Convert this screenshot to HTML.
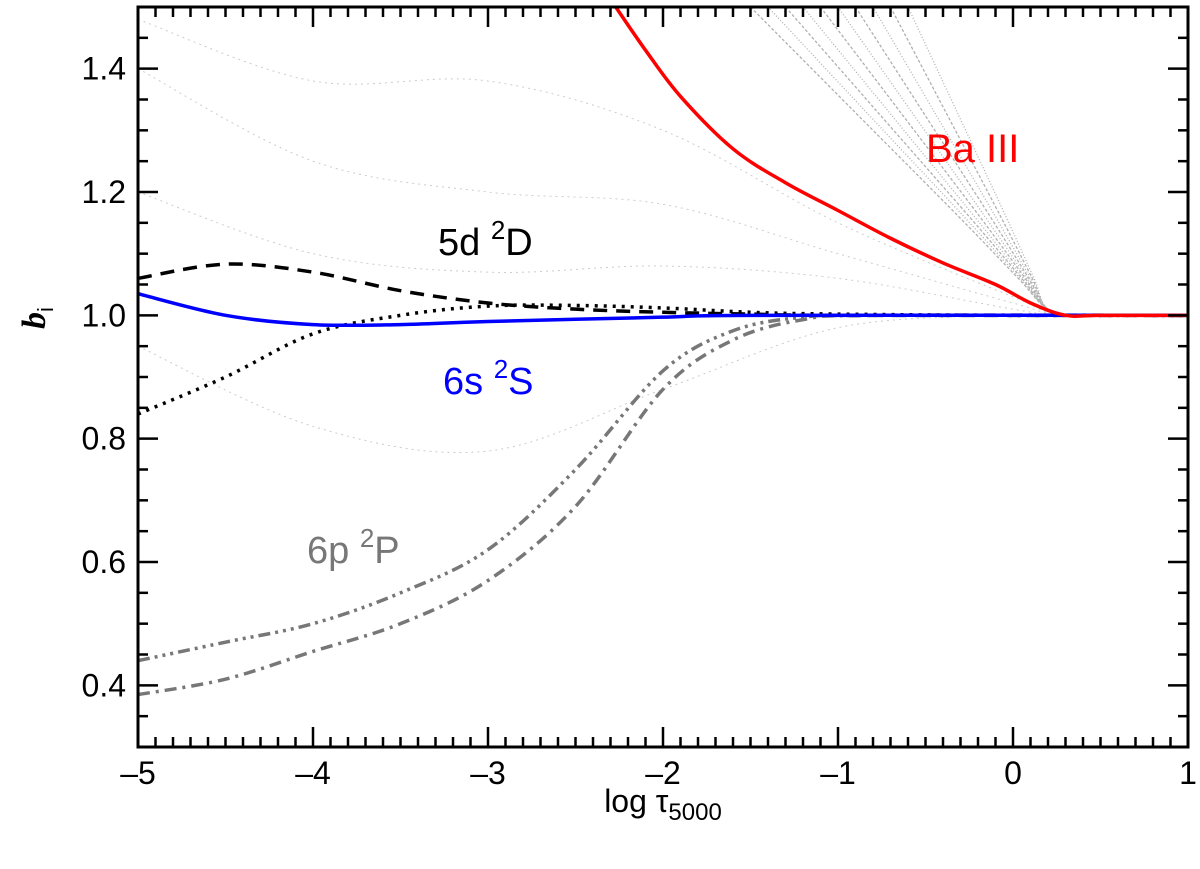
<!DOCTYPE html>
<html><head><meta charset="utf-8"><style>
html,body{margin:0;padding:0;background:#fff;}
svg{display:block;font-family:"Liberation Sans",sans-serif;}
</style></head><body>
<svg id="chart" width="1200" height="869" viewBox="0 0 1200 869">
<g id="faint"></g>
<g id="series"></g>
<g id="axes"></g>
<text x="438" y="255" font-size="38" fill="#000">5d <tspan font-size="26" dy="-16">2</tspan><tspan dy="16">D</tspan></text>
<text x="443" y="394" font-size="38" fill="#0000ff">6s <tspan font-size="26" dy="-16">2</tspan><tspan dy="16">S</tspan></text>
<text x="307" y="563" font-size="38" fill="#777">6p <tspan font-size="26" dy="-16">2</tspan><tspan dy="16">P</tspan></text>
<text x="926" y="162" font-size="40" fill="#ff0000">Ba III</text>
<text x="663" y="812" font-size="32" text-anchor="middle">log τ<tspan font-size="24" dy="8">5000</tspan></text>
<text transform="translate(45,318) rotate(-90)" font-size="34" font-family="Liberation Serif,serif" font-weight="bold" font-style="italic" text-anchor="middle">b<tspan font-size="22" dy="8" font-style="normal" font-weight="normal" font-family="Liberation Sans,sans-serif">i</tspan></text>
</svg>
<script>
const xTicks=[-5,-4,-3,-2,-1,0,1];
const xTickLabels=['\u20135','\u20134','\u20133','\u20132','\u20131','0','1'];
const yTicks=[0.4,0.6,0.8,1.0,1.2,1.4];
const yTickLabels=['0.4','0.6','0.8','1.0','1.2','1.4'];
const redX=[-2.27,-2.1,-1.9,-1.6,-1.3,-1.0,-0.7,-0.4,-0.1,0.1,0.3,0.5,1.0];
const redY=[1.5,1.43,1.355,1.27,1.215,1.17,1.125,1.085,1.05,1.02,1.0,1.0,1.0];
const blueX=[-5,-4.5,-4,-3.5,-3,-2,-1.5,1];
const blueY=[1.035,1.0,0.985,0.985,0.99,0.997,1.0,1.0];
const dashX=[-5,-4.5,-4,-3.5,-3,-2.5,-2,-1.5,-1,1];
const dashY=[1.06,1.083,1.07,1.04,1.02,1.01,1.005,1.002,1.0,1.0];
const dotX=[-5,-4.5,-4,-3.5,-3,-2.5,-2,-1.5,-1,0,1];
const dotY=[0.84,0.9,0.97,1.0,1.015,1.016,1.012,1.005,1.002,1.0,1.0];
const p3X=[-5,-4.5,-4,-3.5,-3,-2.5,-2,-1.6,-1.2,-0.8,1];
const p3Y=[0.44,0.47,0.50,0.55,0.62,0.75,0.91,0.975,0.997,1.0,1.0];
const p1X=[-5,-4.5,-4,-3.5,-3,-2.5,-2,-1.6,-1.2,-0.8,1];
const p1Y=[0.385,0.41,0.455,0.50,0.57,0.69,0.88,0.96,0.993,1.0,1.0];
const faintX=[-5,-4,-3,-2,-1,0,0.3,1];
const faintA=[1.48,1.38,1.38,1.3,1.15,1.03,1.0,1.0];
const faintB=[1.40,1.25,1.2,1.18,1.1,1.02,1.0,1.0];
const faintC=[1.2,1.1,1.07,1.08,1.06,1.01,1.0,1.0];
const faintD=[0.95,0.82,0.78,0.88,0.98,1.0,1.0,1.0];
const bundleStart=[-1.5,-1.4,-1.3,-1.2,-1.1,-1.0,-0.9,-0.8,-0.7,-0.6];
const X0=138,X1=1188,Y0=747,Y1=7;
const sx=v=>X0+(v+5)/6*(X1-X0);
const sy=v=>Y0-(v-0.3)/1.2*(Y0-Y1);
const NS='http://www.w3.org/2000/svg';
function mk(tag,attrs,parent){const e=document.createElementNS(NS,tag);for(const k in attrs)e.setAttribute(k,attrs[k]);parent.appendChild(e);return e;}
function smooth(xs,ys){const p=xs.map((x,i)=>[sx(x),sy(ys[i])]);let d='M'+p[0][0]+','+p[0][1];
for(let i=0;i<p.length-1;i++){const a=p[i-1]||p[i],b=p[i],c=p[i+1],e=p[i+2]||c;
d+=` C${b[0]+(c[0]-a[0])/6},${b[1]+(c[1]-a[1])/6} ${c[0]-(e[0]-b[0])/6},${c[1]-(e[1]-b[1])/6} ${c[0]},${c[1]}`;}return d;}
const svg=document.getElementById('chart');
const defs=mk('defs',{},svg);
const cp=mk('clipPath',{id:'clip'},defs);
mk('rect',{x:X0,y:Y1,width:X1-X0,height:Y0-Y1},cp);
const faint=document.getElementById('faint');faint.setAttribute('clip-path','url(#clip)');
[faintA,faintB,faintC,faintD].forEach((ys,i)=>{const e=mk('path',{d:smooth(faintX,ys),fill:'none',stroke:'#ccc','stroke-width':1,'stroke-dasharray':'2,4'},faint);

});
bundleStart.forEach((s,i)=>{const xe=0.2;
const xs=[s,s+(xe-s)*0.35,s+(xe-s)*0.7,s+(xe-s)*0.9,xe,0.4,1];
const ys=[1.5,1.33,1.16,1.06,1.01,1.0,1.0];
const e=mk('path',{d:smooth(xs,ys),fill:'none',stroke:'#b0b0b0','stroke-width':1.3,'stroke-dasharray':i%2?'1,2':'3,2'},faint);

});
const series=document.getElementById('series');series.setAttribute('clip-path','url(#clip)');
const defsS=[
['line-6p-a',p1X,p1Y,'#777','12,6,3,6'],
['line-6p-b',p3X,p3Y,'#777','12,5,3,5,3,5,3,5'],
['line-5d-dotted',dotX,dotY,'#000','3,6'],
['line-5d-dashed',dashX,dashY,'#000','14,9'],
['line-6s',blueX,blueY,'#0000ff',''],
['line-ba-iii',redX,redY,'#ff0000','']];
defsS.forEach(s=>{const e=mk('path',{d:smooth(s[1],s[2]),fill:'none',stroke:s[3],'stroke-width':3.5,'stroke-dasharray':s[4]||'none'},series);

});
const ax=document.getElementById('axes');
mk('rect',{x:X0,y:Y1,width:X1-X0,height:Y0-Y1,fill:'none',stroke:'#000','stroke-width':3},ax);
for(let k=0;k<=60;k++){const v=-5+k*0.1,x=sx(v),L=(k%10===0)?20:10;
mk('line',{x1:x,x2:x,y1:Y0,y2:Y0-L,stroke:'#000','stroke-width':2.5},ax);
mk('line',{x1:x,x2:x,y1:Y1,y2:Y1+L,stroke:'#000','stroke-width':2.5},ax);}
for(let k=0;k<=24;k++){const v=0.3+k*0.05,y=sy(v),L=(Math.round(v*100)%20===0)?20:10;
mk('line',{x1:X0,x2:X0+L,y1:y,y2:y,stroke:'#000','stroke-width':2.5},ax);
mk('line',{x1:X1,x2:X1-L,y1:y,y2:y,stroke:'#000','stroke-width':2.5},ax);}
xTicks.forEach((v,i)=>{const t=mk('text',{x:sx(v),y:784,'font-size':32,'text-anchor':'middle'},ax);t.textContent=xTickLabels[i];

});
yTicks.forEach((v,i)=>{const t=mk('text',{x:126,y:sy(v)+11,'font-size':32,'text-anchor':'end'},ax);t.textContent=yTickLabels[i];

});
</script>
</body></html>
